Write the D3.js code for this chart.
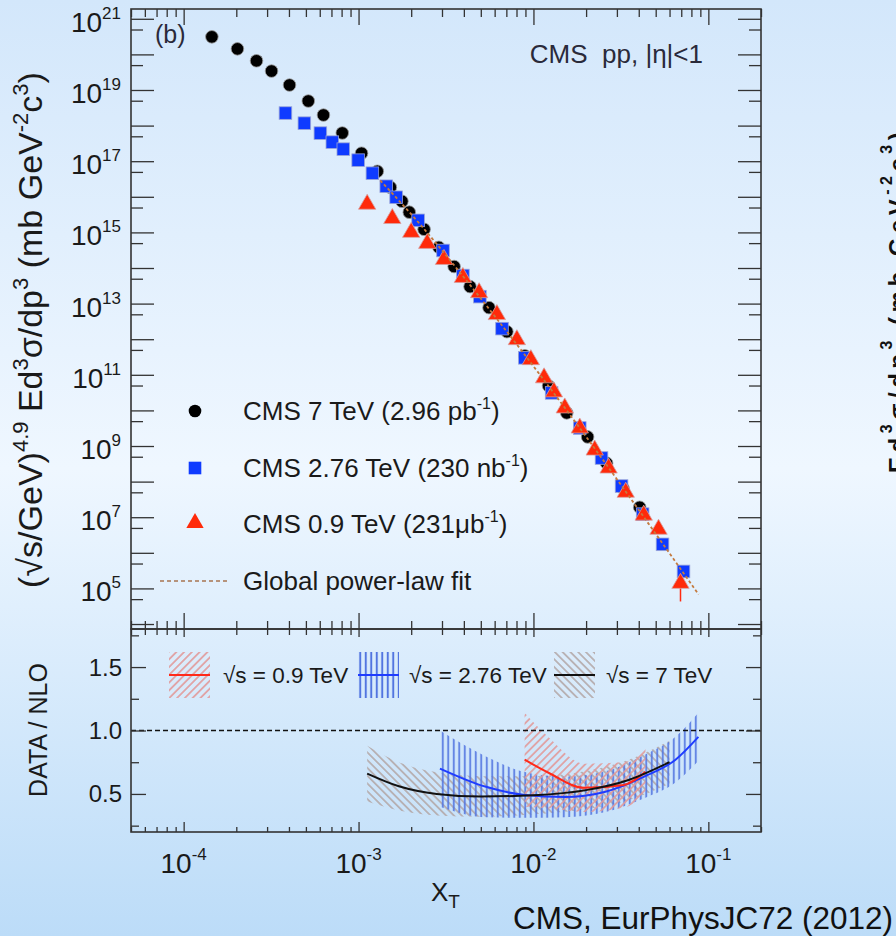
<!DOCTYPE html>
<html>
<head>
<meta charset="utf-8">
<script src="https://cdn.jsdelivr.net/npm/d3@7"></script>
<style>
body{margin:0;overflow:hidden;}
svg{display:block;font-family:Arial,"Liberation Sans",sans-serif;}
</style>
</head>
<body>
<script>
//DATA
var xt7=[1.45e-4,2.03e-4,2.61e-4,3.18e-4,4.03e-4,5.16e-4,6.30e-4,8.07e-4,1.04e-3,1.28e-3,1.52e-3,1.77e-3,1.95e-3,2.37e-3,2.88e-3,3.52e-3,4.34e-3,5.57e-3,7.05e-3,8.93e-3,1.22e-2,1.55e-2,2.04e-2,2.62e-2,3.25e-2,4.05e-2];
var sig7=[3.11e20,1.43e20,6.6e19,3.4e19,1.38e19,4.9e18,1.98e18,6.2e17,1.68e17,5.2e16,1.85e16,7.5e15,3.7e15,1.22e15,3.8e14,1.1e14,3.0e13,7.7e12,1.63e12,3.4e11,4.9e10,8.5e9,1.8e9,3.3e8,6.5e7,1.9e7];

var xt276=[3.82e-4,4.90e-4,6.05e-4,7.08e-4,8.18e-4,9.95e-4,1.20e-3,1.44e-3,1.64e-3,2.19e-3,3.04e-3,3.95e-3,4.94e-3,6.61e-3,8.93e-3,1.27e-2,1.84e-2,2.45e-2,3.19e-2,4.21e-2,5.47e-2,7.21e-2];
var sig276=[2.25e18,1.17e18,6.15e17,3.43e17,2.18e17,1.07e17,4.6e16,1.98e16,9.7e15,2.18e15,3.1e14,6.15e13,1.57e13,1.98e12,3.0e11,3.1e10,3.2e9,4.6e8,7.5e7,1.22e7,1.73e6,3.0e5];

var xt09=[1.12e-3,1.56e-3,2.00e-3,2.47e-3,3.08e-3,3.95e-3,4.89e-3,6.18e-3,8.04e-3,9.66e-3,1.15e-2,1.31e-2,1.51e-2,1.84e-2,2.24e-2,2.69e-2,3.37e-2,4.27e-2,5.19e-2,6.93e-2];
var sig09=[5.8e15,2.3e15,9.4e14,4.6e14,1.63e14,5.1e13,1.9e13,4.6e12,9.1e11,2.5e11,7.7e10,3.1e10,1.1e10,3.0e9,7.2e8,2.25e8,4.7e7,1.07e7,4.3e6,1.3e5];
var errX09=[6.93e-2];
var errLo09=[4.3e4];

var xtFit=[1.33e-3,2.25e-3,3.80e-3,6.43e-3,1.09e-2,1.84e-2,3.11e-2,5.26e-2,8.79e-2];
var sigFit=[2.9e16,1.68e15,7.5e13,2.9e12,1.0e11,3.2e9,9.1e7,2.4e6,6.8e4];

// DATA / NLO bands
var xr7=[1.12e-3,1.7e-3,2.8e-3,5e-3,1e-2,2e-2,3.5e-2,6e-2];
var r7=[0.66,0.56,0.50,0.48,0.49,0.53,0.61,0.75];
var e7=[0.22,0.19,0.17,0.16,0.15,0.15,0.16,0.17];

var xr276=[2.92e-3,5.35e-3,8.93e-3,1.51e-2,2.55e-2,4.27e-2,6.49e-2,8.77e-2];
var r276=[0.70,0.556,0.492,0.476,0.516,0.635,0.77,0.95];
var e276=[0.30,0.24,0.18,0.16,0.16,0.17,0.18,0.19];

var xr09=[8.9e-3,1.22e-2,1.96e-2,3.28e-2,4.37e-2];
var r09=[0.77,0.667,0.548,0.571,0.675];
var e09=[0.37,0.28,0.19,0.18,0.19];

//tick labels
var yLabelExp=[5,7,9,11,13,15,17,19,21];
var xLabelExp=[-4,-3,-2,-1];
var rLabels=[0.5,1.0,1.5];

//CANVAS
var W=896,H=936;
var L=131,R=761,T1=9,B1=629,B2=832;

var svg=d3.select("body").append("svg").attr("width",W).attr("height",H);
var defs=svg.append("defs");

var grad=defs.append("linearGradient").attr("id","bg").attr("x1",0).attr("y1",0).attr("x2",0).attr("y2",1);
grad.append("stop").attr("offset","0").attr("stop-color","#d3e7fb");
grad.append("stop").attr("offset","0.5").attr("stop-color","#eff7ff");
grad.append("stop").attr("offset","1").attr("stop-color","#bcdcf8");
svg.append("rect").attr("width",W).attr("height",H).attr("fill","url(#bg)");

function hatch(id,angle,color,gap,w){
    var p=defs.append("pattern").attr("id",id).attr("patternUnits","userSpaceOnUse")
        .attr("width",gap).attr("height",gap).attr("patternTransform","rotate("+angle+")");
    p.append("line").attr("x1",gap/2).attr("y1",-1).attr("x2",gap/2).attr("y2",gap+1)
        .attr("stroke",color).attr("stroke-width",w);
}
hatch("h7",-45,"#b4a9a9",5.5,1.6);
hatch("h09",45,"#e29a9a",5.5,1.6);
hatch("h276",0,"#5275e0",5.5,2);

defs.append("clipPath").attr("id","clipTop").append("rect")
    .attr("x",L).attr("y",T1).attr("width",R-L).attr("height",B1-T1);
defs.append("clipPath").attr("id","clipBot").append("rect")
    .attr("x",L).attr("y",B1).attr("width",R-L).attr("height",B2-B1);

//SCALES
var x=d3.scaleLog().domain([5e-5,0.2]).range([L,R]);
var y=d3.scaleLog().domain([Math.pow(10,3.86),Math.pow(10,21.275)]).range([B1,T1]);
var yr=d3.scaleLinear().domain([0.2,1.8]).range([B2,B1]);

//rich text helper: parts = [text, 1 sup / -1 sub / 0 normal]
function rich(t,parts,supSize,rise){
    var off=0;
    parts.forEach(function(p){
        var n=-p[1]*rise;
        var ts=t.append("tspan").text(p[0]).attr("dy",n-off);
        if(p[1]!==0) ts.attr("font-size",supSize);
        off=n;
    });
    return t;
}

//BOTTOM PANEL BANDS
var botG=svg.append("g").attr("clip-path","url(#clipBot)");
function bandData(xs,vs,es){return xs.map(function(v,i){return {x:v,v:vs[i],e:es[i]};});}
var area=d3.area().x(function(d){return x(d.x)}).y0(function(d){return yr(d.v-d.e)})
    .y1(function(d){return yr(d.v+d.e)}).curve(d3.curveMonotoneX);
var line=d3.line().x(function(d){return x(d.x)}).y(function(d){return yr(d.v)}).curve(d3.curveMonotoneX);

var b7=bandData(xr7,r7,e7), b276=bandData(xr276,r276,e276), b09=bandData(xr09,r09,e09);
botG.append("path").datum(b7).attr("d",area).attr("fill","url(#h7)");
botG.append("path").datum(b276).attr("d",area).attr("fill","url(#h276)").attr("opacity",0.85);
botG.append("path").datum(b09).attr("d",area).attr("fill","url(#h09)");

botG.append("line").attr("x1",L).attr("x2",R).attr("y1",yr(1)).attr("y2",yr(1))
    .attr("stroke","#111").attr("stroke-width",1.3).attr("stroke-dasharray","5,3");

botG.append("path").datum(b276).attr("d",line).attr("fill","none").attr("stroke","#1f3cff").attr("stroke-width",2);
botG.append("path").datum(b09).attr("d",line).attr("fill","none").attr("stroke","#ff2a1a").attr("stroke-width",2);
botG.append("path").datum(b7).attr("d",line).attr("fill","none").attr("stroke","#111").attr("stroke-width",2);

//bottom legend
var bLeg=[{pat:"h09",col:"#ff2a1a",bx:169,tx:223,lab:"0.9 TeV"},
          {pat:"h276",col:"#1f3cff",bx:358,tx:409,lab:"2.76 TeV"},
          {pat:"h7",col:"#111",bx:554,tx:606,lab:"7 TeV"}];
bLeg.forEach(function(d){
    svg.append("rect").attr("x",d.bx).attr("y",652).attr("width",41).attr("height",46).attr("fill","url(#"+d.pat+")");
    svg.append("line").attr("x1",d.bx).attr("x2",d.bx+41).attr("y1",675).attr("y2",675)
        .attr("stroke",d.col).attr("stroke-width",2);
    svg.append("text").attr("x",d.tx).attr("y",683).attr("font-size",22.5).attr("fill","#1a1a1a")
        .text("\u221As = "+d.lab);
});

//TOP PANEL MARKERS
var topG=svg.append("g").attr("clip-path","url(#clipTop)");
topG.append("g").selectAll("circle").data(d3.zip(xt7,sig7)).join("circle")
    .attr("cx",function(d){return x(d[0])}).attr("cy",function(d){return y(d[1])}).attr("r",6.3)
    .attr("fill","#000").attr("stroke","#9a9a9a").attr("stroke-width",0.8);
topG.append("g").selectAll("rect").data(d3.zip(xt276,sig276)).join("rect")
    .attr("x",function(d){return x(d[0])-6.3}).attr("y",function(d){return y(d[1])-6.3})
    .attr("width",12.6).attr("height",12.6)
    .attr("fill","#0f3bff").attr("stroke","#9aa4d8").attr("stroke-width",0.8);
topG.append("g").selectAll("line").data(d3.zip(errX09,errLo09,sig09.slice(-1))).join("line")
    .attr("x1",function(d){return x(d[0])}).attr("x2",function(d){return x(d[0])})
    .attr("y1",function(d){return y(d[2])}).attr("y2",function(d){return y(d[1])})
    .attr("stroke","#ff2a10").attr("stroke-width",1.5);
var tri=d3.symbol(d3.symbolTriangle,130);
topG.append("g").selectAll("path").data(d3.zip(xt09,sig09)).join("path")
    .attr("d",tri).attr("transform",function(d){return "translate("+x(d[0])+","+(y(d[1])-1)+")"})
    .attr("fill","#ff2a0a").attr("stroke","#d8a0a0").attr("stroke-width",0.8);

var fitLine=d3.line().x(function(d){return x(d[0])}).y(function(d){return y(d[1])}).curve(d3.curveMonotoneX);
topG.append("path").datum(d3.zip(xtFit,sigFit)).attr("d",fitLine).attr("fill","none")
    .attr("stroke","#c47a3e").attr("stroke-width",1.8).attr("stroke-dasharray","3,2.5");

//AXES / TICKS
function tickAxis(axis,tr,vals,len){
    svg.append("g").attr("transform",tr).attr("color","#333")
        .call(axis.tickValues(vals).tickSize(len).tickFormat(""))
        .call(function(g){g.select(".domain").remove();})
        .selectAll("line").attr("stroke-width",1.3);
}
var xAll=x.ticks();
var xMaj=xAll.filter(function(v){var l=Math.log10(v);return Math.abs(l-Math.round(l))<1e-6;});
var xMin=xAll.filter(function(v){return xMaj.indexOf(v)<0;});
var yMaj=d3.range(4,22).map(function(e){return Math.pow(10,e)});
var yMid=d3.range(4,21).map(function(e){return 5*Math.pow(10,e)});

tickAxis(d3.axisTop(x),"translate(0,"+T1+")",xMaj,-16);
tickAxis(d3.axisTop(x),"translate(0,"+T1+")",xMin,-8);
tickAxis(d3.axisBottom(x),"translate(0,"+B1+")",xMaj,-16);
tickAxis(d3.axisBottom(x),"translate(0,"+B1+")",xMin,-8);
tickAxis(d3.axisLeft(y),"translate("+L+",0)",yMaj,-23);
tickAxis(d3.axisLeft(y),"translate("+L+",0)",yMid,-12);
tickAxis(d3.axisRight(y),"translate("+R+",0)",yMaj,-23);
tickAxis(d3.axisRight(y),"translate("+R+",0)",yMid,-12);

tickAxis(d3.axisTop(x),"translate(0,"+B1+")",xMaj,-8);
tickAxis(d3.axisTop(x),"translate(0,"+B1+")",xMin,-6);
tickAxis(d3.axisBottom(x),"translate(0,"+B2+")",xMaj,-10);
tickAxis(d3.axisBottom(x),"translate(0,"+B2+")",xMin,-5);
tickAxis(d3.axisLeft(yr),"translate("+L+",0)",rLabels,-15);
tickAxis(d3.axisLeft(yr),"translate("+L+",0)",[0.25,0.75,1.25,1.75],-8);
tickAxis(d3.axisRight(yr),"translate("+R+",0)",rLabels,-15);
tickAxis(d3.axisRight(yr),"translate("+R+",0)",[0.25,0.75,1.25,1.75],-8);

svg.append("rect").attr("x",L).attr("y",T1).attr("width",R-L).attr("height",B1-T1)
    .attr("fill","none").attr("stroke","#333").attr("stroke-width",1.6);
svg.append("rect").attr("x",L).attr("y",B1).attr("width",R-L).attr("height",B2-B1)
    .attr("fill","none").attr("stroke","#333").attr("stroke-width",1.6);

//TICK LABELS
yLabelExp.forEach(function(e){
    var t=svg.append("text").attr("x",121).attr("y",y(Math.pow(10,e))+13)
        .attr("text-anchor","end").attr("font-size",28).attr("fill","#1a1a1a");
    rich(t,[["10",0],[String(e),1]],17,13);
});
xLabelExp.forEach(function(e){
    var t=svg.append("text").attr("x",x(Math.pow(10,e))).attr("y",873)
        .attr("text-anchor","middle").attr("font-size",28).attr("fill","#1a1a1a");
    rich(t,[["10",0],[String(e),1]],17,13);
});
rLabels.forEach(function(v){
    svg.append("text").attr("x",122).attr("y",yr(v)+8.5).attr("text-anchor","end")
        .attr("font-size",24).attr("fill","#1a1a1a").text(d3.format(".1f")(v));
});

//AXIS TITLES
var yt=svg.append("text").attr("transform","translate(42,330) rotate(-90)")
    .attr("text-anchor","middle").attr("font-size",34).attr("fill","#1a1a1a");
rich(yt,[["(\u221As/GeV)",0],["4.9",1],[" Ed",0],["3",1],["\u03C3/dp",0],["3",1],[" (mb GeV",0],["-2",1],["c",0],["3",1],[")",0]],22,14);

svg.append("text").attr("transform","translate(47,730) rotate(-90)")
    .attr("text-anchor","middle").attr("font-size",25).attr("fill","#1a1a1a").text("DATA / NLO");

var xtTitle=svg.append("text").attr("x",431).attr("y",901).attr("font-size",26).attr("fill","#1a1a1a");
rich(xtTitle,[["X",0],["T",-1]],19,7);

svg.append("text").attr("x",893).attr("y",929).attr("text-anchor","end")
    .attr("font-size",31.5).attr("fill","#111").text("CMS, EurPhysJC72 (2012)");

//TOP PANEL TEXT + LEGEND
svg.append("text").attr("x",155).attr("y",43).attr("font-size",25).attr("fill","#2a2a3a").text("(b)");
var cms=svg.append("text").attr("x",703).attr("y",63).attr("text-anchor","end")
    .attr("font-size",26).attr("fill","#2a2a3a").attr("xml:space","preserve");
cms.text("CMS  pp, |\u03B7|<1");

var legRows=[411,468,524,581];
var legParts=[[["CMS 7 TeV (2.96 pb",0],["-1",1],[")",0]],
              [["CMS 2.76 TeV (230 nb",0],["-1",1],[")",0]],
              [["CMS 0.9 TeV (231\u03BCb",0],["-1",1],[")",0]],
              [["Global power-law fit",0]]];
legParts.forEach(function(p,i){
    var t=svg.append("text").attr("x",243).attr("y",legRows[i]+9).attr("font-size",26).attr("fill","#1a1a1a");
    rich(t,p,16,11);
});
svg.append("circle").attr("cx",195).attr("cy",legRows[0]).attr("r",6.3).attr("fill","#000");
svg.append("rect").attr("x",195-6.3).attr("y",legRows[1]-6.3).attr("width",12.6).attr("height",12.6).attr("fill","#0f3bff");
svg.append("path").attr("d",tri).attr("transform","translate(195,"+(legRows[2]-1)+")").attr("fill","#ff2a0a");
svg.append("line").attr("x1",160).attr("x2",227).attr("y1",legRows[3]).attr("y2",legRows[3])
    .attr("stroke","#a87450").attr("stroke-width",1.6).attr("stroke-dasharray","4,3");

//cut-off title of the neighbouring chart (only its edge is inside the picture)
var cut=svg.append("text").attr("transform","translate(906,473) rotate(-90)")
    .attr("font-size",24).attr("font-weight","bold").attr("letter-spacing",4.5).attr("fill","#111");
rich(cut,[["Ed",0],["3",1],["\u03C3/dp",0],["3",1],[" (mb GeV",0],["-2",1],["c",0],["3",1],[")",0]],16,14);
</script>
</body>
</html>
